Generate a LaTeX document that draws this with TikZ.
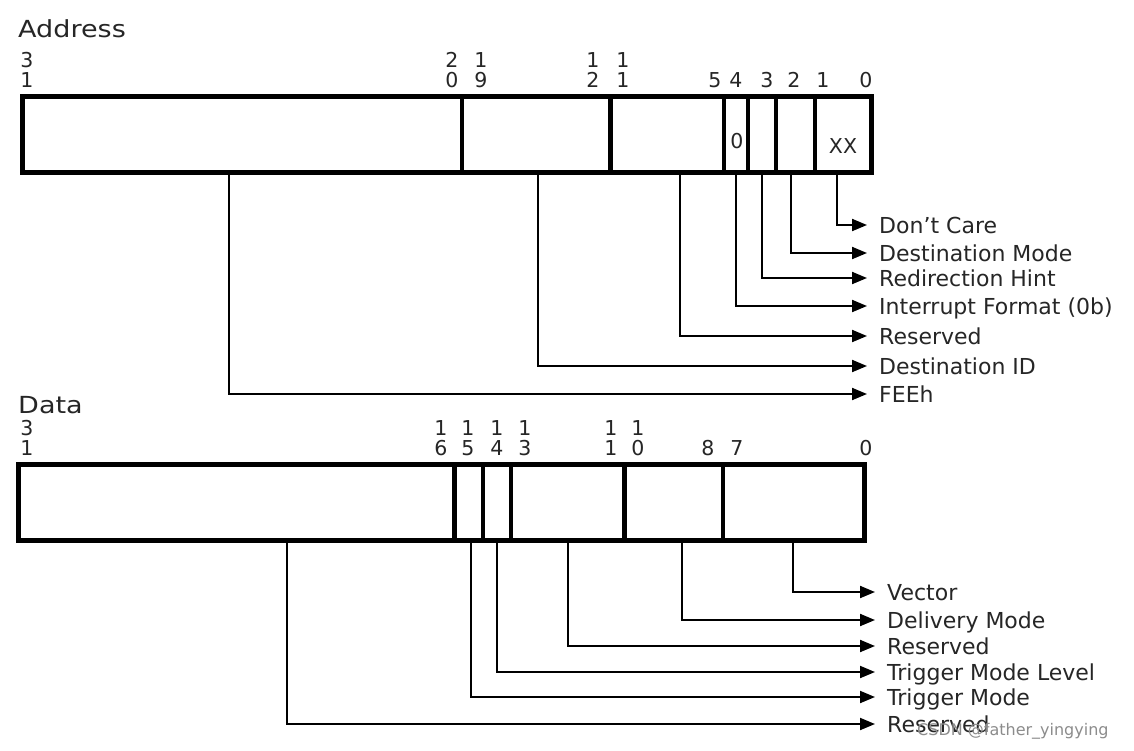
\documentclass[tikz,border=0pt]{standalone}
\usepackage{fontspec}
\setmainfont{DejaVu Sans}
\newfontfamily\titlefont{DejaVu Sans}[FakeStretch=1.15]
\usetikzlibrary{arrows.meta}
\begin{document}
\begin{tikzpicture}[x=1pt,y=-1pt,
  regbox/.style={line width=5pt},
  divline/.style={line width=4.5pt},
  conn/.style={line width=2pt,-{Triangle[length=15pt,width=12pt]}},
  lab/.style={anchor=west,inner sep=0pt,text=black!85,font=\fontsize{22}{22}\selectfont,text height=16pt,text depth=0pt},
  bit/.style={inner sep=0pt,text=black!85,font=\fontsize{20.5}{20.5}\selectfont},
  ttl/.style={anchor=base west,inner sep=0pt,text=black!85,font=\titlefont\fontsize{23.5}{23.5}\selectfont},
  fld/.style={inner sep=0pt,text=black!85,font=\fontsize{20.5}{20.5}\selectfont}
]
\useasboundingbox (0,0) rectangle (1134,750);
\fill[white] (0,0) rectangle (1134,750);

% ---------- Address ----------
\node[ttl] (addr) at (18,37) {Address};
\node[bit] (a31t) at (27,60) {3};  \node[bit] (a31b) at (27,80) {1};
\node[bit] (a20t) at (452,60) {2}; \node[bit] (a20b) at (452,80) {0};
\node[bit] (a19t) at (481,60) {1}; \node[bit] (a19b) at (481,80) {9};
\node[bit] (a12t) at (593,60) {1}; \node[bit] (a12b) at (593,80) {2};
\node[bit] (a11t) at (623,60) {1}; \node[bit] (a11b) at (623,80) {1};
\node[bit] (a5) at (715,80) {5};
\node[bit] (a4) at (736,80) {4};
\node[bit] (a3) at (767,80) {3};
\node[bit] (a2) at (794,80) {2};
\node[bit] (a1) at (823,80) {1};
\node[bit] (a0) at (866,80) {0};

\node[lab] (l0) at (879,225) {Don’t Care};
\node[lab] (l1) at (879,253) {Destination Mode};
\node[lab] (l2) at (879,278) {Redirection Hint};
\node[lab] (l3) at (879,306) {Interrupt Format (0b)};
\node[lab] (l4) at (879,336) {Reserved};
\node[lab] (l5) at (879,366) {Destination ID};
\node[lab] (l6) at (879,394) {FEEh};

\coordinate (c0) at (837,172);
\coordinate (c1) at (791,172);
\coordinate (c2) at (762,172);
\coordinate (c3) at (736,172);
\coordinate (c4) at (680,172);
\coordinate (c5) at (538,172);
\coordinate (c6) at (229,172);
\draw[conn] (c0) |- ([xshift=-12pt]l0.west);
\draw[conn] (c1) |- ([xshift=-12pt]l1.west);
\draw[conn] (c2) |- ([xshift=-12pt]l2.west);
\draw[conn] (c3) |- ([xshift=-12pt]l3.west);
\draw[conn] (c4) |- ([xshift=-12pt]l4.west);
\draw[conn] (c5) |- ([xshift=-12pt]l5.west);
\draw[conn] (c6) |- ([xshift=-12pt]l6.west);

\draw[regbox] (22,96) rectangle (871,172);
\draw[divline,line width=4pt] (462,96) -- (462,172);
\draw[divline,line width=5pt] (610,96) -- (610,172);
\draw[divline,line width=4pt] (724,96) -- (724,172);
\draw[divline] (748,96) -- (748,172);
\draw[divline] (776,96) -- (776,172);
\draw[divline] (815,96) -- (815,172);
\node[fld] (f0) at (737,141) {0};
\node[fld] (fxx) at (843,146) {XX};

% ---------- Data ----------
\node[ttl] (data) at (18,413) {Data};
\node[bit] (d31t) at (27,428) {3};  \node[bit] (d31b) at (27,448) {1};
\node[bit] (d16t) at (441,428) {1}; \node[bit] (d16b) at (441,448) {6};
\node[bit] (d15t) at (468,428) {1}; \node[bit] (d15b) at (468,448) {5};
\node[bit] (d14t) at (497,428) {1}; \node[bit] (d14b) at (497,448) {4};
\node[bit] (d13t) at (525,428) {1}; \node[bit] (d13b) at (525,448) {3};
\node[bit] (d11t) at (611,428) {1}; \node[bit] (d11b) at (611,448) {1};
\node[bit] (d10t) at (638,428) {1}; \node[bit] (d10b) at (638,448) {0};
\node[bit] (d8) at (708,448) {8};
\node[bit] (d7) at (737,448) {7};
\node[bit] (d0) at (866,448) {0};

\node[lab] (m0) at (887,592) {Vector};
\node[lab] (m1) at (887,620) {Delivery Mode};
\node[lab] (m2) at (887,646) {Reserved};
\node[lab] (m3) at (887,672) {Trigger Mode Level};
\node[lab] (m4) at (887,697) {Trigger Mode};
\node[lab] (m5) at (887,724) {Reserved};

\coordinate (e0) at (793,540);
\coordinate (e1) at (682,540);
\coordinate (e2) at (568,540);
\coordinate (e3) at (497,540);
\coordinate (e4) at (471,540);
\coordinate (e5) at (287,540);
\draw[conn] (e0) |- ([xshift=-12pt]m0.west);
\draw[conn] (e1) |- ([xshift=-12pt]m1.west);
\draw[conn] (e2) |- ([xshift=-12pt]m2.west);
\draw[conn] (e3) |- ([xshift=-12pt]m3.west);
\draw[conn] (e4) |- ([xshift=-12pt]m4.west);
\draw[conn] (e5) |- ([xshift=-12pt]m5.west);

\draw[regbox] (18,464) rectangle (864,540);
\draw[divline,line width=5pt] (454,464) -- (454,540);
\draw[divline] (483,464) -- (483,540);
\draw[divline] (511,464) -- (511,540);
\draw[divline,line width=5pt] (624,464) -- (624,540);
\draw[divline,line width=3.5pt] (723,464) -- (723,540);

% watermark
\node[anchor=west,inner sep=0pt,text=black!45,font=\fontsize{16}{16}\selectfont] (wm) at (917,731) {CSDN @father\_yingying};
\end{tikzpicture}
\end{document}
